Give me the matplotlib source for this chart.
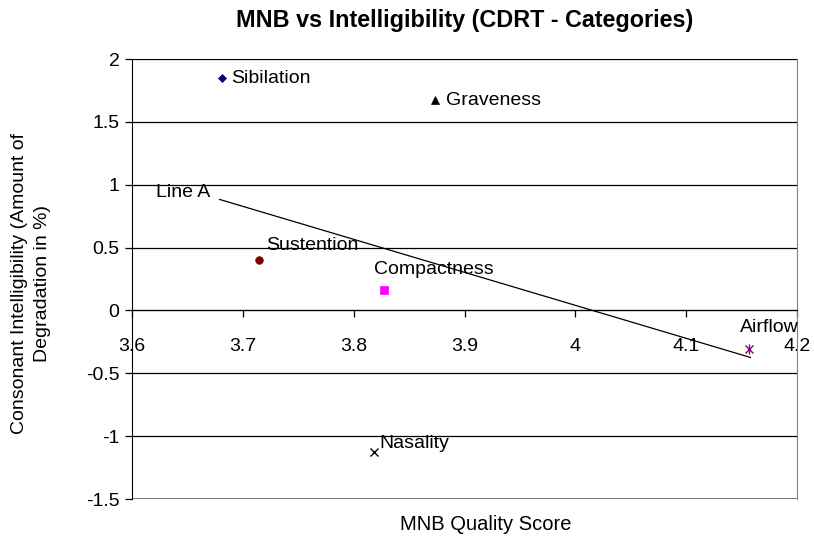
import matplotlib
matplotlib.use('Agg')
import matplotlib.pyplot as plt

plt.rcParams['font.family'] = ['Liberation Sans', 'DejaVu Sans']

# category points (MNB score, intelligibility degradation)
categories = ['Sibilation', 'Graveness', 'Sustention', 'Compactness', 'Nasality', 'Airflow']
mnb_scores = [3.681, 3.873, 3.715, 3.827, 3.818, 4.157]
intelligibility = [1.846, 1.67, 0.398, 0.159, -1.13, -0.31]

# trend line "Line A"
line_x = [3.679, 4.158]
line_y = [0.883, -0.374]

x_ticks = [3.6, 3.7, 3.8, 3.9, 4.0, 4.1, 4.2]
x_tick_labels = ['3.6', '3.7', '3.8', '3.9', '4', '4.1', '4.2']
y_ticks = [-1.5, -1, -0.5, 0, 0.5, 1, 1.5, 2]
y_tick_labels = ['-1.5', '-1', '-0.5', '0', '0.5', '1', '1.5', '2']

styles = {
    'Sibilation': dict(marker='D', color='#000080', ms=4.5),
    'Graveness': dict(marker='^', color='black', ms=5.5),
    'Sustention': dict(marker='o', color='#800000', ms=5.5),
    'Compactness': dict(marker='s', color='#FF00FF', ms=5.5),
    'Nasality': dict(marker='x', color='black', ms=6),
    'Airflow': dict(marker='x', color='#800080', ms=6),
}
# label offsets in points
offsets = {
    'Sibilation': (7, 0, 'left', 'center'),
    'Graveness': (8, 0, 'left', 'center'),
    'Sustention': (5, 11, 'left', 'center'),
    'Compactness': (-7, 15, 'left', 'center'),
    'Nasality': (4, 6.5, 'left', 'center'),
    'Airflow': (-7, 16, 'left', 'center'),
}

fig = plt.figure(figsize=(8.14, 5.47), dpi=100)
ax = fig.add_axes([132 / 814, 1 - 499 / 547, 665 / 814, 440 / 547])

for y in y_ticks:
    ax.axhline(y, color='black', lw=0.9, zorder=1)

ax.plot(line_x, line_y, color='black', lw=0.9, zorder=2)
ax.annotate('Line A', (line_x[0], line_y[0]), xytext=(-6.5, 5), textcoords='offset points',
            ha='right', va='center', fontsize=14)

for name, x, y in zip(categories, mnb_scores, intelligibility):
    st = styles[name]
    mew = 1.0 if st['marker'] == 'x' else 0.5
    ax.plot([x], [y], linestyle='none', marker=st['marker'], color=st['color'],
            markersize=st['ms'], markeredgewidth=mew, zorder=3)
    if name == 'Airflow':
        ax.plot([x], [y], linestyle='none', marker='|', color=st['color'],
                markersize=st['ms'] + 1, markeredgewidth=1.0, zorder=3)
    dx, dy, ha, va = offsets[name]
    ax.annotate(name, (x, y), xytext=(dx, dy), textcoords='offset points',
                ha=ha, va=va, fontsize=14)

ax.spines['bottom'].set_position(('data', 0))
ax.spines['bottom'].set_color('black')
ax.spines['left'].set_color('black')
ax.spines['right'].set_color('#808080')
ax.spines['top'].set_visible(False)

ax.set_xlim(3.6, 4.2)
ax.set_ylim(-1.5, 2)
ax.set_xticks(x_ticks)
ax.set_xticklabels(x_tick_labels)
ax.set_yticks(y_ticks)
ax.set_yticklabels(y_tick_labels)
ax.tick_params(axis='x', direction='out', length=5, width=0.9, pad=14.5, labelsize=14)
ax.tick_params(axis='y', direction='out', length=5, width=0.9, pad=4, labelsize=14)

# gray bottom border of plot area at y = -1.5
ax.axhline(-1.5, color='#808080', lw=1.5, zorder=1)

ax.set_title('MNB vs Intelligibility (CDRT - Categories)', fontsize=16.8,
             fontweight='bold', pad=23)
fig.text(486 / 814, 1 - 524 / 547, 'MNB Quality Score', ha='center', va='center', fontsize=14.5)
fig.text(31 / 814, 1 - 283 / 547, 'Consonant Intelligibility (Amount of\nDegradation in %)',
         rotation=90, ha='center', va='center', fontsize=14, multialignment='center',
         linespacing=1.45)

fig.savefig('out.png', dpi=100)
